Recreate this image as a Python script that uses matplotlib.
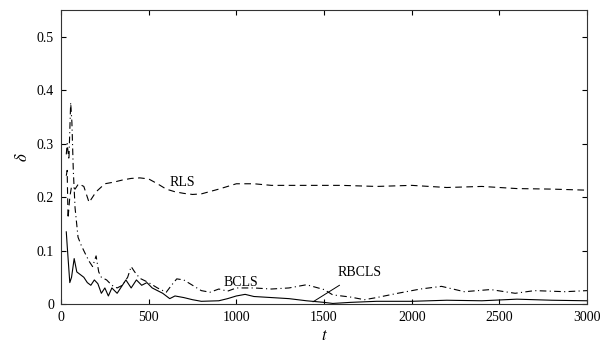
import matplotlib
matplotlib.use("Agg")
import matplotlib.pyplot as plt

plt.rcParams['font.family'] = ['Liberation Serif', 'DejaVu Serif']
plt.rcParams['mathtext.fontset'] = 'stix'

# RLS (dashed)
t_rls = [30, 35, 40, 50, 60, 80, 100, 130, 160, 200, 250, 300, 350, 400, 450, 500,
         550, 600, 650, 700, 750, 800, 900, 1000, 1100, 1200, 1400, 1600, 1800,
         2000, 2200, 2400, 2600, 2800, 3000]
d_rls = [0.24, 0.25, 0.16, 0.20, 0.22, 0.215, 0.225, 0.22, 0.19, 0.21, 0.225, 0.228, 0.232,
         0.235, 0.236, 0.234, 0.225, 0.215, 0.21, 0.207, 0.205, 0.206, 0.215, 0.225, 0.225,
         0.222, 0.222, 0.222, 0.22, 0.222, 0.218, 0.22, 0.216, 0.215, 0.213]

# BCLS (dash-dot)
t_bcls = [30, 35, 45, 55, 62, 70, 80, 97, 115, 137, 160, 180, 200, 215, 230, 260, 290, 320,
          350, 380, 400, 420, 450, 500, 550, 600, 630, 660, 700, 750, 800, 850, 900, 950,
          1000, 1050, 1100, 1200, 1300, 1400, 1500, 1550, 1650, 1730, 1800, 1920, 2050,
          2170, 2300, 2450, 2590, 2700, 2875, 3000]
d_bcls = [0.28, 0.30, 0.27, 0.377, 0.34, 0.25, 0.18, 0.125, 0.11, 0.095, 0.08, 0.07, 0.09,
          0.06, 0.05, 0.045, 0.035, 0.03, 0.035, 0.05, 0.07, 0.06, 0.048, 0.04, 0.03, 0.022,
          0.035, 0.047, 0.045, 0.035, 0.025, 0.022, 0.028, 0.024, 0.03, 0.03, 0.03, 0.028,
          0.03, 0.036, 0.027, 0.017, 0.013, 0.008, 0.012, 0.02, 0.028, 0.033, 0.023, 0.027,
          0.02, 0.025, 0.023, 0.025]

# RBCLS (solid)
t_rb = [30, 35, 50, 60, 75, 90, 110, 130, 150, 170, 190, 210, 230, 250, 270, 290, 320,
        350, 370, 400, 430, 460, 490, 520, 550, 580, 620, 650, 700, 750, 800, 900, 950,
        1000, 1050, 1100, 1200, 1300, 1400, 1500, 1550, 1650, 1800, 2000, 2200, 2400,
        2600, 2800, 3000]
d_rb = [0.135, 0.11, 0.04, 0.05, 0.085, 0.06, 0.055, 0.05, 0.04, 0.035, 0.045, 0.038,
        0.02, 0.03, 0.015, 0.03, 0.02, 0.035, 0.045, 0.03, 0.045, 0.035, 0.04, 0.03, 0.025,
        0.02, 0.01, 0.015, 0.012, 0.008, 0.005, 0.006, 0.01, 0.015, 0.018, 0.014, 0.012,
        0.01, 0.006, 0.003, 0.001, 0.003, 0.005, 0.005, 0.007, 0.006, 0.009, 0.007, 0.006]

fig = plt.figure(figsize=(6.06, 3.49), dpi=100)
ax = fig.add_axes([0.1007, 0.129, 0.868, 0.842])

ax.plot(t_rls, d_rls, color='black', linestyle=(0, (6, 4)), linewidth=0.8)
ax.plot(t_bcls, d_bcls, color='black', linestyle=(0, (6, 3, 1, 3)), linewidth=0.8)
ax.plot(t_rb, d_rb, color='black', linestyle='-', linewidth=0.8)

ax.text(690, 0.228, 'RLS', fontsize=10, ha='center', va='center')
ax.text(1025, 0.04, 'BCLS', fontsize=10, ha='center', va='center')
ax.annotate('RBCLS', xy=(1437, 0.004), xytext=(1700, 0.058), fontsize=10,
            ha='center', va='center',
            arrowprops=dict(arrowstyle='-', color='black', linewidth=0.7,
                            shrinkA=4, shrinkB=0))

ax.set_xlim(0, 3000)
ax.set_ylim(0, 0.55)
ax.set_xticks([0, 500, 1000, 1500, 2000, 2500, 3000])
ax.set_xticklabels(['0', '500', '1000', '1500', '2000', '2500', '3000'])
ax.set_yticks([0, 0.1, 0.2, 0.3, 0.4, 0.5])
ax.set_yticklabels(['0', '0.1', '0.2', '0.3', '0.4', '0.5'])
ax.tick_params(direction='in', top=True, right=True, length=3.5, width=0.8,
               labelsize=10, pad=5)
for s in ax.spines.values():
    s.set_linewidth(0.8)
    s.set_color('#333333')

ax.set_xlabel('$t$', fontsize=12, labelpad=3)
ax.set_ylabel(r'$\delta$', fontsize=12, labelpad=4)

plt.savefig("out.png", dpi=100)
